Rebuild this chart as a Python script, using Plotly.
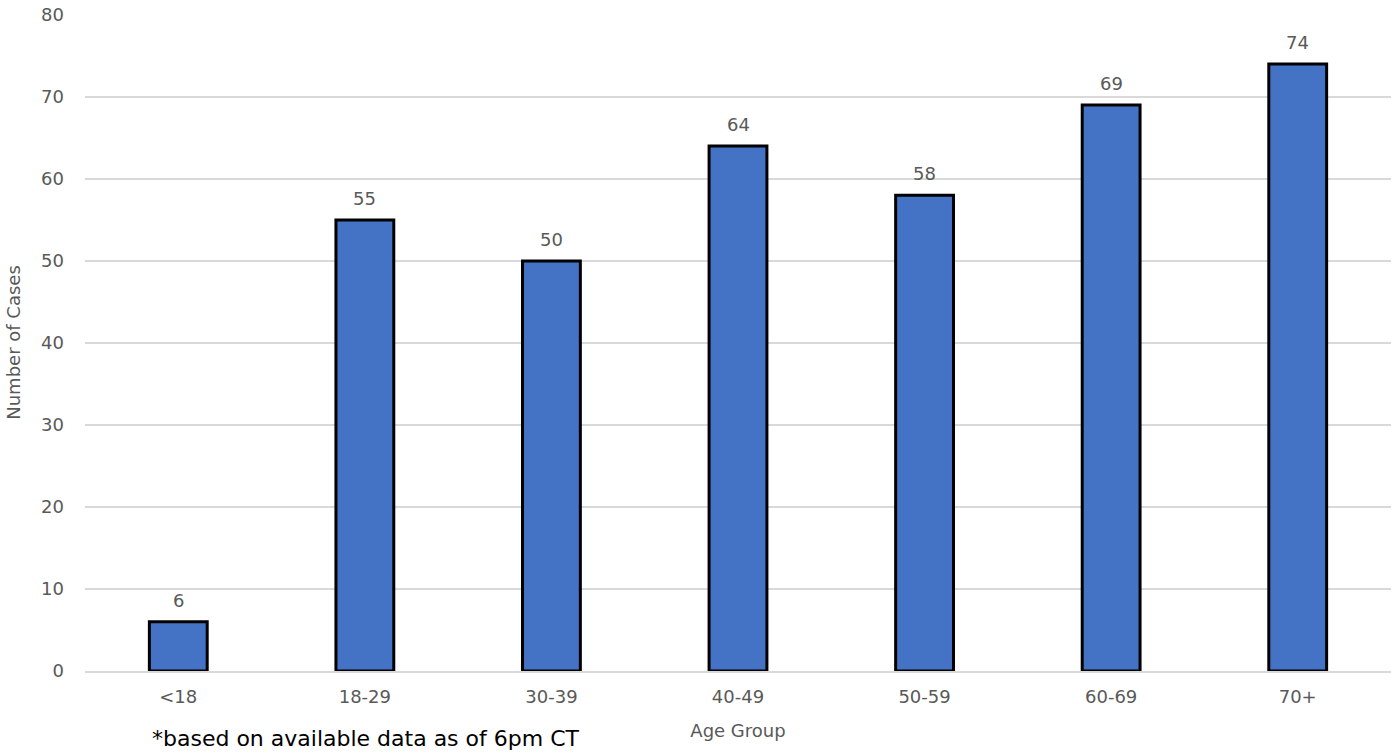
import plotly.graph_objects as go

categories = ["<18", "18-29", "30-39", "40-49", "50-59", "60-69", "70+"]
cases = [6, 55, 50, 64, 58, 69, 74]
y_ticks = [0, 10, 20, 30, 40, 50, 60, 70, 80]

FONT = "DejaVu Sans"
GREY = "#595959"
fig = go.Figure(go.Bar(
    x=categories, y=cases,
    marker=dict(color="#4472C4", line=dict(color="black", width=3)),
    cliponaxis=False, width=0.31, hoverinfo="x+y",
))
# value labels above bars
for c, v in zip(categories, cases):
    fig.add_annotation(x=c, y=v, text=str(v), showarrow=False, yanchor="bottom",
                       yshift=9, font=dict(family=FONT, size=18, color=GREY))

fig.update_layout(
    width=1400, height=753,
    margin=dict(l=85, r=9, t=14, b=82),
    plot_bgcolor="white", paper_bgcolor="white",
    showlegend=False,
    font=dict(family=FONT, color=GREY),
    xaxis=dict(
        title=dict(text="Age Group", font=dict(size=18, color=GREY), standoff=18),
        tickfont=dict(size=18, color=GREY),
        showgrid=False, showline=True, linecolor="#d9d9d9", linewidth=1.5,
        ticklabelstandoff=9, automargin=False,
    ),
    yaxis=dict(
        title=dict(text="Number of Cases", font=dict(size=18, color=GREY), standoff=15),
        tickfont=dict(size=18, color=GREY),
        tickvals=y_ticks, range=[0, 80.1],
        showgrid=True, gridcolor="#d9d9d9", gridwidth=1.5,
        zeroline=False, showline=False,
        ticklabelstandoff=20, automargin=False, ticklabeloverflow="allow",
    ),
)
fig.add_annotation(
    text="*based on available data as of 6pm CT", xref="paper", yref="paper",
    x=(150 - 85) / 1306, y=-(738 - 671) / 657, xanchor="left", yanchor="middle",
    showarrow=False, font=dict(family=FONT, size=22, color="black"),
)
fig.write_html("out.html", config={"displayModeBar": False},
               post_script="document.body.style.margin='0';")
